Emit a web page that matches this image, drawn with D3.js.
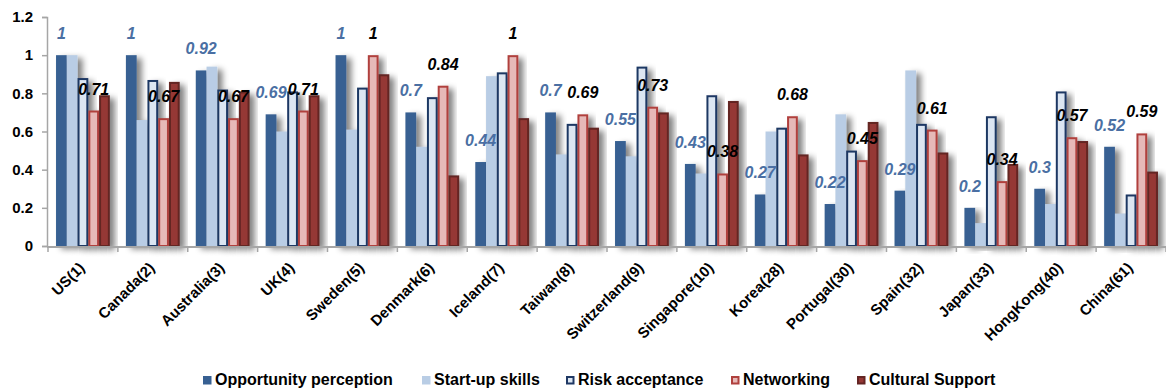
<!DOCTYPE html>
<html>
<head>
<meta charset="utf-8">
<script src="https://cdn.jsdelivr.net/npm/d3@7"></script>
<style>
  html, body { margin: 0; padding: 0; background: #fff; }
  svg { display: block; font-family: Arial, "Liberation Sans", sans-serif; }
</style>
</head>
<body>
<svg id="chart" width="1166" height="389"></svg>
<script>
// Entrepreneurship attitude indicators by country (global rank in brackets)
const countries = ["US(1)", "Canada(2)", "Australia(3)", "UK(4)", "Sweden(5)", "Denmark(6)",
  "Iceland(7)", "Taiwan(8)", "Switzerland(9)", "Singapore(10)", "Korea(28)", "Portugal(30)",
  "Spain(32)", "Japan(33)", "HongKong(40)", "China(61)"];

const seriesNames = ["Opportunity perception", "Start-up skills", "Risk acceptance", "Networking", "Cultural Support"];

const opportunity = [1, 1, 0.92, 0.69, 1, 0.7, 0.44, 0.7, 0.55, 0.43, 0.27, 0.22, 0.29, 0.2, 0.3, 0.52];
const startupSkills = [1, 0.66, 0.94, 0.60, 0.61, 0.52, 0.89, 0.48, 0.47, 0.38, 0.60, 0.69, 0.92, 0.12, 0.22, 0.17];
const riskAcceptance = [0.88, 0.87, 0.82, 0.81, 0.83, 0.78, 0.91, 0.64, 0.94, 0.79, 0.62, 0.50, 0.64, 0.68, 0.81, 0.27];
const networking = [0.71, 0.67, 0.67, 0.71, 1, 0.84, 1, 0.69, 0.73, 0.38, 0.68, 0.45, 0.61, 0.34, 0.57, 0.59];
const culturalSupport = [0.79, 0.86, 0.81, 0.79, 0.90, 0.37, 0.67, 0.62, 0.70, 0.76, 0.48, 0.65, 0.49, 0.43, 0.55, 0.39];

const yTicks = [0, 0.2, 0.4, 0.6, 0.8, 1, 1.2];

const seriesValues = [opportunity, startupSkills, riskAcceptance, networking, culturalSupport];
const seriesStyle = [
  { fill: "#376092", stroke: "none", sw: 0 },
  { fill: "#B9CDE5", stroke: "none", sw: 0 },
  { fill: "#DCE6F2", stroke: "#1F3864", sw: 2 },
  { fill: "#E6B9B8", stroke: "#B0413E", sw: 2 },
  { fill: "#953735", stroke: "#632523", sw: 2 }
];

const svg = d3.select("#chart");
const plotLeft = 48, plotRight = 1166, plotTop = 17, plotBottom = 246;

const x = d3.scaleBand().domain(countries).range([plotLeft, plotRight]).paddingInner(0.23).paddingOuter(0.115);
const xi = d3.scaleBand().domain(d3.range(seriesNames.length)).range([0, x.bandwidth()]).padding(0);
const y = d3.scaleLinear().domain([0, 1.2]).range([plotBottom, plotTop]);

// soft drop shadow behind bars
const defs = svg.append("defs");
const f = defs.append("filter").attr("id", "shadow").attr("x", "-50%").attr("y", "-10%").attr("width", "250%").attr("height", "130%");
f.append("feGaussianBlur").attr("in", "SourceAlpha").attr("stdDeviation", 3).attr("result", "b");
f.append("feOffset").attr("in", "b").attr("dx", 5).attr("dy", 3).attr("result", "o");
f.append("feComponentTransfer").attr("in", "o").attr("result", "s")
  .append("feFuncA").attr("type", "linear").attr("slope", 0.5);
const m = f.append("feMerge");
m.append("feMergeNode").attr("in", "s");
m.append("feMergeNode").attr("in", "SourceGraphic");

// bars
const groups = svg.append("g").selectAll("g").data(countries).join("g")
  .attr("transform", d => `translate(${x(d)},0)`);

groups.each(function(c, ci) {
  const g = d3.select(this);
  seriesValues.forEach((vals, si) => {
    const st = seriesStyle[si];
    const inset = st.sw / 2;
    g.append("rect")
      .attr("x", xi(si) + inset)
      .attr("y", y(vals[ci]) + inset)
      .attr("width", xi.bandwidth() - st.sw)
      .attr("height", Math.max(0, y(0) - y(vals[ci]) - inset))
      .attr("fill", st.fill)
      .attr("stroke", st.stroke)
      .attr("stroke-width", st.sw)
      .attr("filter", "url(#shadow)");
  });
});

// y axis
const yAxis = d3.axisLeft(y).tickValues(yTicks).tickFormat(d3.format("~g")).tickSize(5).tickPadding(9);
const ya = svg.append("g").attr("transform", `translate(${plotLeft - 1},0)`).call(yAxis);
ya.select(".domain").attr("stroke", "#A6A6A6").attr("stroke-width", 1.5);
ya.selectAll(".tick line").attr("stroke", "#A6A6A6").attr("stroke-width", 1.5);
ya.selectAll(".tick text").attr("fill", "#000").attr("font-size", 15).attr("font-weight", "bold")
  .attr("font-family", "Arial, 'Liberation Sans', sans-serif");

// x axis baseline with category boundary ticks
const step = x.step();
const boundaries = d3.range(countries.length + 1).map(i => x(countries[0]) - step * x.paddingInner() / 2 + i * step);
svg.append("line").attr("x1", plotLeft - 1).attr("x2", plotRight).attr("y1", y(0) + 1).attr("y2", y(0) + 1)
  .attr("stroke", "#A6A6A6").attr("stroke-width", 2);
svg.append("g").selectAll("line").data(boundaries).join("line")
  .attr("x1", d => d).attr("x2", d => d).attr("y1", y(0) + 1).attr("y2", y(0) + 6)
  .attr("stroke", "#A6A6A6").attr("stroke-width", 1.5);

// rotated country labels
svg.append("g").selectAll("text").data(countries).join("text")
  .attr("transform", d => `translate(${x(d) + x.bandwidth() / 2 - 1},${y(0) + 19}) rotate(-45)`)
  .attr("text-anchor", "end").attr("dy", "0.35em")
  .attr("font-size", 15).attr("font-weight", "bold").attr("fill", "#000")
  .text(d => d);

// value labels: opportunity (blue) and networking (black)
const fmt = d3.format("~g");
svg.append("g").selectAll("text").data(countries).join("text")
  .attr("x", (d) => x(d) + xi(0) + xi.bandwidth() / 2)
  .attr("y", (d, i) => y(opportunity[i]) - 16)
  .attr("text-anchor", "middle")
  .attr("font-size", 16).attr("font-weight", "bold").attr("font-style", "italic")
  .attr("fill", "#4A6FA3")
  .text((d, i) => fmt(opportunity[i]));

svg.append("g").selectAll("text").data(countries).join("text")
  .attr("x", (d) => x(d) + xi(3) + xi.bandwidth() / 2)
  .attr("y", (d, i) => y(networking[i]) - 16)
  .attr("text-anchor", "middle")
  .attr("font-size", 16).attr("font-weight", "bold").attr("font-style", "italic")
  .attr("fill", "#000")
  .text((d, i) => fmt(networking[i]));

// legend
const legendX = [203, 422, 566, 731, 857];
const lg = svg.append("g").selectAll("g").data(seriesNames).join("g")
  .attr("transform", (d, i) => `translate(${legendX[i]},376)`);
lg.append("rect")
  .attr("x", (d, i) => seriesStyle[i].sw ? 1 : 0)
  .attr("y", (d, i) => seriesStyle[i].sw ? 1 : 0)
  .attr("width", (d, i) => seriesStyle[i].sw ? 6.5 : 8.5)
  .attr("height", (d, i) => seriesStyle[i].sw ? 6.5 : 8.5)
  .attr("fill", (d, i) => seriesStyle[i].fill)
  .attr("stroke", (d, i) => seriesStyle[i].stroke)
  .attr("stroke-width", (d, i) => seriesStyle[i].sw);
lg.append("text").attr("x", 12).attr("y", 8.7)
  .attr("font-size", 16).attr("font-weight", "bold").attr("fill", "#000")
  .text(d => d);
</script>
</body>
</html>
